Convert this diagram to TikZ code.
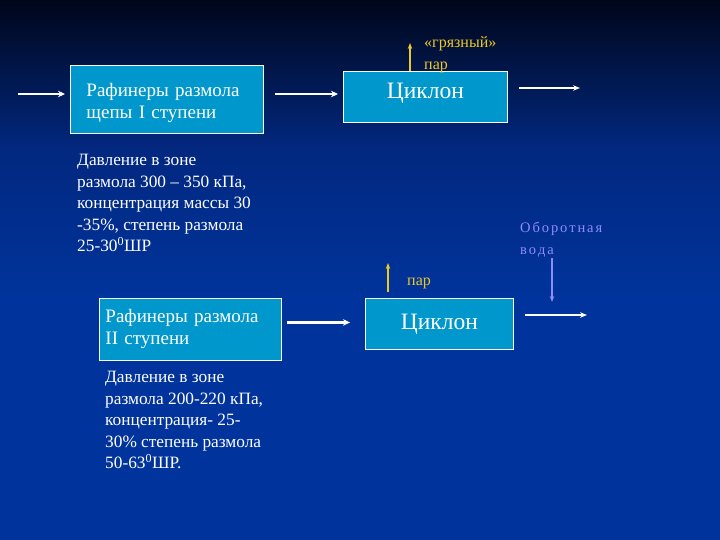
\documentclass[tikz,border=0pt]{standalone}
\usepackage{fontspec}
\setmainfont{Liberation Serif}
\usetikzlibrary{arrows.meta,calc}
\definecolor{bgtop}{RGB}{0,6,26}
\definecolor{bgmid}{RGB}{2,40,128}
\definecolor{bgbot}{RGB}{0,52,156}
\definecolor{boxfill}{RGB}{0,152,204}
\definecolor{steam}{RGB}{236,200,40}
\definecolor{water}{RGB}{140,140,250}
\tikzset{
  procbox/.style={draw=white, line width=0.9pt, fill=boxfill, text=white, anchor=north west, inner sep=0pt, align=left},
  bodytext/.style={text=white, anchor=north west, inner sep=0pt, align=left, font=\fontsize{17.3}{21.6}\selectfont},
  flow/.style={draw=white, line width=2.3pt, -{Stealth[length=7pt,width=6.5pt]}},
  thinflow/.style={draw=white, line width=1.2pt, -{Stealth[length=7pt,width=5.5pt]}},
  steamflow/.style={draw=steam, line width=1.5pt, -{Stealth[length=6pt,width=4.5pt]}},
  waterflow/.style={draw=water, line width=1.5pt, -{Stealth[length=6pt,width=4.5pt]}},
  steamtext/.style={text=steam, anchor=north west, inner sep=0pt, align=left, font=\fontsize{16}{22}\selectfont},
}
\newcommand{\spc}[1]{#1\kern1.9pt}
\begin{document}
\begin{tikzpicture}[x=1pt,y=-1pt]
\useasboundingbox (0,0) rectangle (720,540);
\shade[top color=bgtop, bottom color=bgmid] (0,0) rectangle (720,150);
\shade[top color=bgmid, bottom color=bgbot] (0,150) rectangle (720,300);
\fill[bgbot] (0,300) rectangle (720,540);

% boxes
\node[procbox, minimum width=193pt, minimum height=68pt, text width=161pt, inner xsep=16pt,
      font=\fontsize{19}{22}\selectfont] (r1) at (70,65) {\rule{0pt}{20pt}Рафинеры размола\\щепы I ступени};
\node[draw=white, line width=0.9pt, fill=boxfill, text=white, anchor=north west,
      minimum width=164pt, minimum height=51pt, font=\fontsize{23.5}{24}\selectfont] (c1) at (343,71) {\raisebox{13pt}{Циклон}};
\node[procbox, minimum width=182pt, minimum height=62pt, text width=170pt, inner xsep=6pt,
      font=\fontsize{19}{22}\selectfont] (r2) at (99,298) {Рафинеры размола\\II ступени};
\node[draw=white, line width=0.9pt, fill=boxfill, text=white, anchor=north west,
      minimum width=148pt, minimum height=51pt, font=\fontsize{23.5}{24}\selectfont] (c2) at (365,298) {Циклон};

% texts
\node[bodytext] (t1) at (77,154) {Давление в зоне\\размола 300 – 350 кПа,\\концентрация массы 30\\-35\%, степень размола\\25-30\textsuperscript{0}ШР};
\node[bodytext] (t2) at (105,371) {Давление в зоне\\размола 200-220 кПа,\\концентрация- 25-\\30\% степень размола\\50-63\textsuperscript{0}ШР.};
\node[steamtext] (s1) at (424,36) {«грязный»\\пар};
\node[steamtext] (s2) at (407,278) {пар};
\node[text=water, anchor=north west, inner sep=0pt, align=left, font=\fontsize{14.5}{22}\selectfont] (w) at (520,222) {\spc{О}\spc{б}\spc{о}\spc{р}\spc{о}\spc{т}\spc{н}\spc{а}я\\\spc{в}\spc{о}\spc{д}а};

% coordinates
\coordinate (in1) at (18,94);
\coordinate (out1) at (580,88);
\coordinate (out2) at (587,315);
\coordinate (st1) at (410,43);
\coordinate (st2a) at (388,292);
\coordinate (st2b) at (388,263);
\coordinate (wa) at (552,258);
\coordinate (wb) at (552,302);

% connectors
\draw[flow, shorten >=5pt] (in1) -- (in1 -| r1.west);
\draw[flow, shorten <=11pt, shorten >=5pt] (in1 -| r1.east) -- (in1 -| c1.west);
\draw[thinflow, shorten <=11pt] (out1 -| c1.east) -- (out1);
\draw[steamflow] (st1 |- c1.north) -- (st1);
\draw[steamflow] (st2a) -- (st2b);
\draw[waterflow] (wa) -- (wb);
\draw[flow, shorten <=5pt, shorten >=15pt] ($(r2.east)+(0,-7)$) -- ($(r2.east -| c2.west)+(0,-7)$);
\draw[thinflow, shorten <=11pt] (out2 -| c2.east) -- (out2);
\end{tikzpicture}
\end{document}
